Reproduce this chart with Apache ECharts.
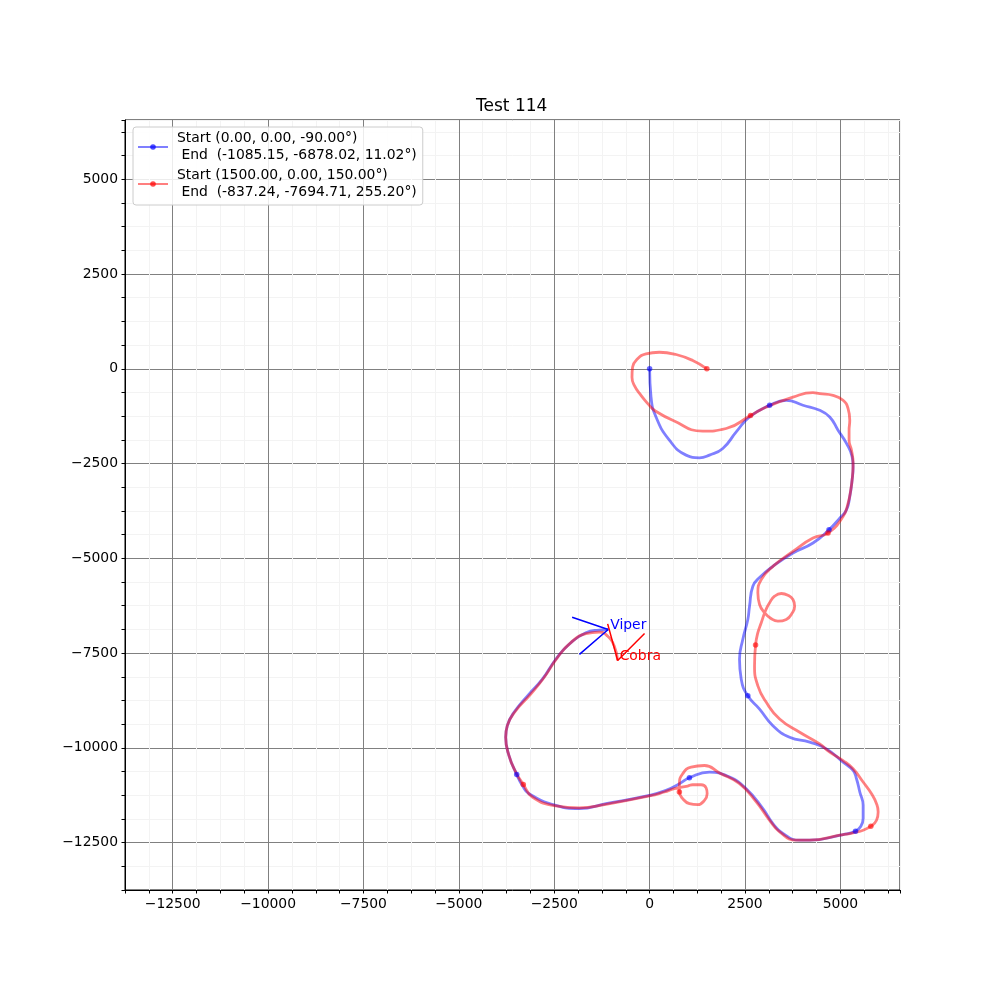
<!DOCTYPE html>
<html>
<head>
<meta charset="utf-8">
<script src="https://cdn.jsdelivr.net/npm/echarts@6/dist/echarts.min.js"></script>
<style>html,body{margin:0;padding:0;background:#fff}#c{width:1000px;height:1000px}</style>
</head>
<body>
<div id="c"></div>
<script>
// ---- data ----
const titleText = 'Test 114';
const blueName = 'Start (0.00, 0.00, -90.00°)\n End  (-1085.15, -6878.02, 11.02°)';
const redName = 'Start (1500.00, 0.00, 150.00°)\n End  (-837.24, -7694.71, 255.20°)';

const bluePath = [
  [0,0],[37,-746],[168,-1271],[518,-1884],[956,-2278],[1306,-2349],[1568,-2278],[1918,-2102],
  [2270,-1666],[2619,-1271],[3145,-963],[3583,-832],[4019,-963],[4458,-1095],[4721,-1271],
  [4939,-1621],[5159,-1970],[5307,-2322],[5333,-2585],[5307,-2934],[5246,-3373],[5159,-3722],
  [4983,-3940],[4702,-4248],[4282,-4597],[3757,-4860],[3231,-5212],[2882,-5509],[2706,-5737],
  [2619,-6263],[2574,-6612],[2443,-7137],[2356,-7663],[2401,-8188],[2574,-8627],[2882,-8976],
  [3231,-9415],[3670,-9720],[4195,-9851],[4634,-10027],[5070,-10377],[5333,-10597],
  [5422,-10815],[5509,-11165],[5596,-11517],[5596,-11866],[5527,-12084],[5396,-12200],
  [5070,-12286],[4195,-12436],[3933,-12436],[3494,-12260],[3231,-11997],[2969,-11603],
  [2532,-11077],[2094,-10771],[1568,-10639],[1043,-10789],[780,-10946],[431,-11123],
  [-8,-11254],[-1145,-11472],[-1847,-11603],[-2459,-11517],[-3160,-11209],[-3336,-10991],
  [-3483,-10702],[-3686,-10203],[-3772,-9720],[-3730,-9415],[-3554,-9063],[-3160,-8582],
  [-2811,-8188],[-2459,-7663],[-2110,-7269],[-1671,-6962],[-1321,-6893],[-1085.15,-6878.02]
];
const blueMarkers = [[0,0],[3145,-963],[4702,-4248],[2574,-8627],[5396,-12200],[1043,-10789],[-3483,-10702]];

const redPath = [
  [1500,0],[1130,218],[694,376],[255,436],[-95,394],[-315,263],[-447,42],[-462,-221],
  [-402,-438],[-226,-701],[-8,-964],[123,-1095],[604,-1358],[1392,-1647],[2007,-1576],
  [2645,-1235],[3058,-1009],[3757,-746],[4282,-630],[4458,-657],[4807,-701],[5070,-832],
  [5202,-1051],[5246,-1358],[5228,-1621],[5228,-1884],[5291,-2147],[5333,-2496],[5317,-2848],
  [5272,-3197],[5202,-3546],[5070,-3898],[4676,-4334],[4282,-4466],[3757,-4818],[3231,-5212],
  [2926,-5561],[2837,-5911],[2882,-6218],[3013,-6436],[3189,-6594],[3363,-6657],[3583,-6612],
  [3741,-6436],[3801,-6263],[3757,-6087],[3625,-5974],[3452,-5929],[3276,-6000],[3145,-6173],
  [3039,-6376],[2926,-6699],[2837,-6962],[2777,-7287],[2750,-7839],[2837,-8364],[3058,-8800],
  [3407,-9239],[3933,-9589],[4458,-9896],[4721,-10114],[5070,-10335],[5333,-10553],
  [5596,-10902],[5816,-11209],[5947,-11472],[5990,-11690],[5947,-11911],[5798,-12068],
  [5596,-12173],[5333,-12242],[4983,-12305],[4195,-12436],[3845,-12436],[3407,-12216],
  [3145,-11911],[2795,-11427],[2356,-10946],[1831,-10661],[1437,-10466],[1088,-10508],
  [867,-10684],[780,-10946],[780,-11165],[867,-11341],[1043,-11472],[1261,-11499],[1437,-11385],
  [1508,-11209],[1482,-11060],[1350,-10973],[1130,-10973],[998,-11007],[649,-11078],
  [386,-11165],[-8,-11270],[-1145,-11490],[-1847,-11585],[-2459,-11533],[-3074,-11296],
  [-3310,-10965],[-3510,-10639],[-3686,-10203],[-3772,-9720],[-3730,-9415],[-3509,-9021],
  [-3116,-8582],[-2766,-8144],[-2417,-7618],[-2065,-7224],[-1671,-6988],[-1321,-6946],
  [-1103,-7051],[-927,-7314],[-837.24,-7694.71]
];
const redMarkers = [[1500,0],[2645,-1235],[4676,-4334],[2777,-7287],[5798,-12068],[780,-11165],[-3310,-10965]];

// vehicles: final pose (x, y, heading in degrees)
const vehicleNames = ['Viper', 'Cobra'];
const vehicleX = [-1085.15, -837.24];
const vehicleY = [-6878.02, -7694.71];
const vehicleHeading = [11.02, 255.20];
const chevronArm = 1000;

// ---- chart ----
const FONT = 'DejaVu Sans';
const vehColors = ['#0000ff', '#ff0000'];

function chevron(i) {
  const x = vehicleX[i], y = vehicleY[i], h = vehicleHeading[i];
  const a1 = (h + 180 - 30) * Math.PI / 180, a2 = (h + 180 + 30) * Math.PI / 180;
  return [
    [x + chevronArm * Math.cos(a1), y + chevronArm * Math.sin(a1)],
    [x, y],
    [x + chevronArm * Math.cos(a2), y + chevronArm * Math.sin(a2)]
  ];
}

function fmt(v) {
  if (Math.abs(v % 2500) > 1e-6) return '';
  return v < 0 ? '\u2212' + Math.abs(v) : String(v);
}

const minorC = '#f3f3f3', majorC = '#808080';
function axisCfg() {
  return {
    type: 'value',
    min: -13750,
    max: 6562.5,
    interval: 625,
    axisLine: { show: true, onZero: false, lineStyle: { color: '#000', width: 1 } },
    axisTick: { show: true, length: 3.5, lineStyle: { color: '#000', width: 1 } },
    axisLabel: { formatter: fmt, color: '#000', fontFamily: FONT, fontSize: 13.9, margin: 7 },
    splitLine: { show: true, lineStyle: { color: [minorC, minorC, majorC, minorC], width: 1 } }
  };
}

const SMOOTH = 0.5;
const series = [
  {
    name: blueName, type: 'line', data: bluePath, smooth: SMOOTH, symbol: 'circle', symbolSize: 6,
    showSymbol: false, lineStyle: { color: '#0000ff', width: 2.8, opacity: 0.5 },
    itemStyle: { color: 'rgba(0,0,255,0.7)' }, z: 3, silent: true
  },
  {
    name: redName, type: 'line', data: redPath, smooth: SMOOTH, symbol: 'circle', symbolSize: 6,
    showSymbol: false, lineStyle: { color: '#ff0000', width: 2.8, opacity: 0.5 },
    itemStyle: { color: 'rgba(255,0,0,0.7)' }, z: 4, silent: true
  },
  {
    name: 'blueMarkers', type: 'scatter', data: blueMarkers, symbolSize: 5.5,
    itemStyle: { color: '#0000ff', opacity: 0.6 }, z: 5, silent: true
  },
  {
    name: 'redMarkers', type: 'scatter', data: redMarkers, symbolSize: 5.5,
    itemStyle: { color: '#ff0000', opacity: 0.6 }, z: 5, silent: true
  }
];

vehicleNames.forEach((nm, i) => {
  series.push({
    name: nm + '_chev', type: 'line', data: chevron(i), symbol: 'none', smooth: false,
    lineStyle: { color: vehColors[i], width: 1.5, opacity: 1 }, z: 6, silent: true
  });
  series.push({
    name: nm + '_label', type: 'scatter', data: [[vehicleX[i], vehicleY[i]]], symbolSize: 1,
    itemStyle: { color: 'rgba(0,0,0,0)', opacity: 1 }, z: 7, silent: true,
    label: {
      show: true, formatter: nm, position: [2.5, 3], align: 'left', verticalAlign: 'bottom',
      color: vehColors[i], opacity: 1, textBorderWidth: 0, fontFamily: FONT, fontSize: 13.9
    }
  });
});

const chart = echarts.init(document.getElementById('c'), null, { renderer: 'canvas' });
chart.setOption({
  animation: false,
  backgroundColor: '#fff',
  title: {
    text: titleText, left: 476, top: 98, padding: 0,
    textStyle: { fontFamily: FONT, fontSize: 17, fontWeight: 'normal', color: '#000' }
  },
  grid: { left: 125, top: 120, width: 775, height: 770, show: true, borderColor: '#000', borderWidth: 1, backgroundColor: 'transparent' },
  xAxis: axisCfg(),
  yAxis: axisCfg(),
  legend: {
    data: [blueName, redName],
    orient: 'vertical',
    left: 133, top: 127,
    padding: [3, 6, 4, 4],
    itemGap: 3,
    itemWidth: 30, itemHeight: 7,
    backgroundColor: 'rgba(255,255,255,0.85)',
    borderColor: '#cccccc', borderWidth: 1, borderRadius: 3,
    textStyle: { fontFamily: FONT, fontSize: 13.9, color: '#000', lineHeight: 17, padding: [0, 0, 0, 4] }
  },
  series: series
});
</script>
</body>
</html>
